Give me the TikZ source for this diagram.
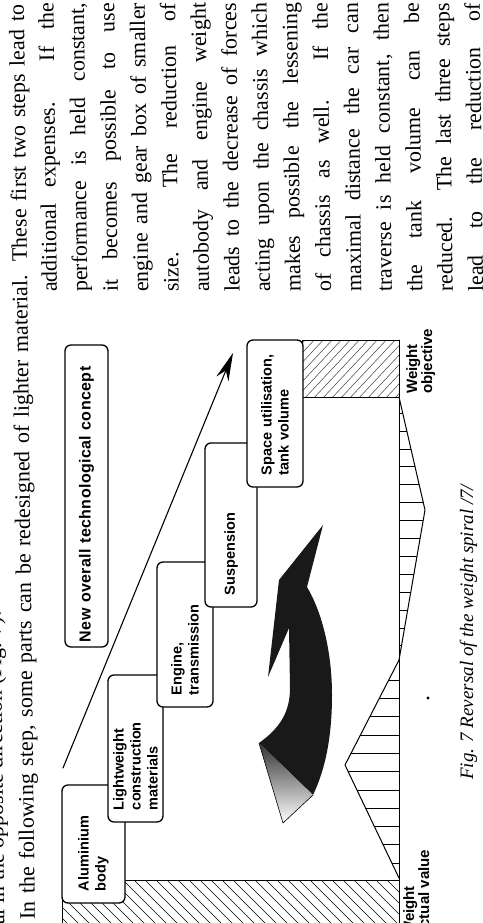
\documentclass[tikz,border=0pt]{standalone}
\usepackage{fontspec}
\setmainfont{Liberation Serif}
\newfontfamily\boxfont{Liberation Sans}
\newfontfamily\conceptfont{Liberation Sans}[LetterSpace=2.5]
\usetikzlibrary{arrows.meta}
\begin{document}
\begin{tikzpicture}[x=1pt,y=-1pt,line join=round,line cap=round,>={Stealth[length=28pt,width=13pt]}]
	\tikzset{every node/.style={inner sep=0pt},
		bodytext/.style={rotate=90.7,anchor=base west,font=\fontsize{22}{30.5}\selectfont},
		stepbox/.style={draw,fill=white,rounded corners=6pt,rotate=90,line width=1.3pt,align=left,inner xsep=12pt,font=\boxfont\bfseries\fontsize{14.5}{17}\selectfont},
		barlabel/.style={rotate=90,anchor=north west,align=left,font=\boxfont\bfseries\fontsize{15}{15}\selectfont},
		hatchline/.style={line width=0.6pt}}
	\useasboundingbox (0,0) rectangle (482,923);
	\clip (0,0) rectangle (482,923);
	\begin{scope}
		\clip (62,880) rectangle (399,935);
		\foreach \s in {20,31,...,410}
		\draw[hatchline] (\s,876)--++(60,60);
	\end{scope}
	\draw[line width=1pt] (62,880) rectangle (399,935);
	\begin{scope}
		\clip (302,340) rectangle (399,397);
		\foreach \s in {240,249,...,410}
		\draw[hatchline,black!75,line width=0.5pt] (\s,400)--++(60,-64);
	\end{scope}
	\draw[line width=1pt] (302,340) rectangle (399,397);
	\draw[line width=1pt] (399,340) -- (399,923);
	\begin{scope}
		\clip (399,878)--(345,765)--(399,660)--cycle;
		\foreach \yy in {680,698.3,...,872}
		\draw[hatchline] (340,\yy)--(400,\yy);
	\end{scope}
	\begin{scope}
		\clip (399,660)--(425,510)--(399,397)--cycle;
		\foreach \yy in {413,430.9,...,656}
		\draw[hatchline] (398,\yy)--(430,\yy);
	\end{scope}
	\draw[line width=1pt] (399,878)--(345,765)--(399,660)--(425,510)--(399,397);
	\fill (428,698) circle (1.6);
	\coordinate (trendstart) at (63,768);
	\coordinate (trendtip) at (233,353);
	\draw[->,line width=1.1pt] (trendstart) -- (trendtip);
	\node[stepbox,text width=94pt,minimum height=63pt] (alubody) at (93.5,844) {Aluminium\\body};
	\node[stepbox,text width=123pt,minimum height=55pt] (lightmat) at (135.5,748.5) {Lightweight\\construction\\materials};
	\node[stepbox,text width=121pt,minimum height=56pt] (engine) at (185,634.5) {Engine,\\transmission};
	\node[stepbox,text width=140pt,minimum height=52pt] (suspension) at (231,525) {Suspension};
	\node[stepbox,text width=123pt,minimum height=56pt] (spaceuse) at (275,413.5) {Space utilisation,\\tank volume};
	\node[stepbox,inner xsep=5pt,text width=292pt,minimum height=43pt,font=\conceptfont\bfseries\fontsize{16}{18}\selectfont] (newconcept) at (86.5,496) {New overall technological concept};
	\fill[black!90] (259,743) .. controls (280,728) and (290,712) .. (290,688) -- (289,628) -- (268,677) -- (279,580) -- (323,525) -- (307,587) .. controls (322,612) and (332,652) .. (332,695) .. controls (332,738) and (325,770) .. (313,795) -- cycle;
	\shade[top color=black!80,middle color=gray!50,bottom color=white] (259,743) -- (313,795) -- (283,823) -- cycle;
	\draw[line width=0.6pt] (259,743) -- (283,823) -- (313,795);
	\node[barlabel] (actuallbl) at (403,936) {Weight\\actual value};
	\node[barlabel] (objectivelbl) at (406,394) {Weight\\objective};
	\node[bodytext] (prevline) at (4.5,925) {al in the opposite direction (Fig. 7).};
	\node[bodytext] (leadline) at (35,920) {\makebox[915pt][s]{In the following step, some parts can be redesigned of lighter material. These first two steps lead to}};
	\foreach \k/\txt in {1/{additional expenses. If the},2/{performance is held constant,},3/{it becomes possible to use},4/{engine and gear box of smaller},5/{size. The reduction of},6/{autobody and engine weight},7/{leads to the decrease of forces},8/{acting upon the chassis which},9/{makes possible the lessening},10/{of chassis as well. If the},11/{maximal distance the car can},12/{traverse is held constant, then},13/{the tank volume can be},14/{reduced. The last three steps},15/{lead to the reduction of}}
	\node[bodytext] (col\k) at ({26.5+30.45*\k},292) {\makebox[289pt][s]{\txt}};
	\node[rotate=90,anchor=base west,font=\itshape\fontsize{19}{22}\selectfont] (caption) at (473,780) {Fig. 7 Reversal of the weight spiral /7/};
\end{tikzpicture}
\end{document}
